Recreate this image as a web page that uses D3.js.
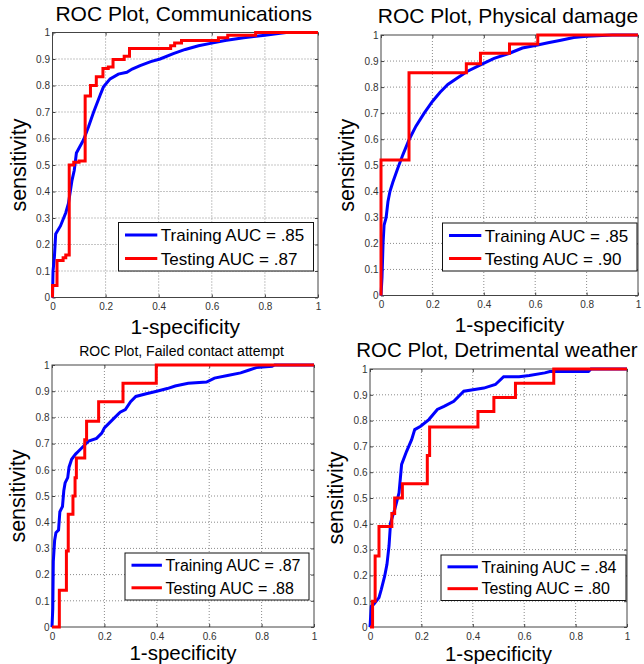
<!DOCTYPE html>
<html><head><meta charset="utf-8">
<script src="https://cdn.jsdelivr.net/npm/d3@7"></script>
<style>
body{margin:0;background:#fff;}
svg{display:block;font-family:"Liberation Sans",Arial,Helvetica,sans-serif;}
</style>
</head><body>
<svg id="chart" width="644" height="664"></svg>
<script>
// ---------- data ----------
const titles = ["ROC Plot, Communications", "ROC Plot, Physical damage", "ROC Plot, Failed contact attempt", "ROC Plot, Detrimental weather"];
const seriesNames = ["Training AUC = ", "Testing AUC = "];
const trainAUC = [".85", ".85", ".87", ".84"];
const testAUC = [".87", ".90", ".88", ".80"];
const xLabel = "1-specificity";
const yLabel = "sensitivity";
const xTicks = [0, 0.2, 0.4, 0.6, 0.8, 1];
const xTickLabels = ["0", "0.2", "0.4", "0.6", "0.8", "1"];
const yTicks = [0, 0.1, 0.2, 0.3, 0.4, 0.5, 0.6, 0.7, 0.8, 0.9, 1];
const yTickLabels = ["0", "0.1", "0.2", "0.3", "0.4", "0.5", "0.6", "0.7", "0.8", "0.9", "1"];

// [1-specificity, sensitivity]
const commTrain = [[0,0],[0.002,0.1],[0.007,0.15],[0.012,0.24],[0.03,0.27],[0.05,0.32],[0.06,0.355],[0.073,0.44],[0.082,0.48],[0.09,0.545],[0.117,0.595],[0.136,0.645],[0.155,0.7],[0.18,0.765],[0.192,0.795],[0.217,0.825],[0.248,0.843],[0.28,0.85],[0.3,0.862],[0.33,0.875],[0.37,0.89],[0.405,0.9],[0.455,0.92],[0.5,0.936],[0.55,0.95],[0.6,0.96],[0.65,0.97],[0.72,0.98],[0.8,0.99],[0.88,1],[1,1]];
const commTest = [[0,0],[0,0.045],[0.017,0.14],[0.04,0.15],[0.05,0.16],[0.063,0.5],[0.08,0.51],[0.1,0.515],[0.123,0.76],[0.143,0.8],[0.165,0.833],[0.19,0.864],[0.21,0.87],[0.228,0.898],[0.27,0.91],[0.29,0.94],[0.445,0.95],[0.46,0.96],[0.486,0.97],[0.625,0.98],[0.66,0.99],[0.765,1],[1,1]];

const physTrain = [[0,0],[0.004,0.07],[0.008,0.2],[0.012,0.27],[0.02,0.3],[0.027,0.36],[0.035,0.4],[0.046,0.435],[0.066,0.49],[0.085,0.54],[0.11,0.6],[0.136,0.65],[0.168,0.7],[0.2,0.745],[0.23,0.78],[0.26,0.81],[0.297,0.835],[0.335,0.86],[0.387,0.885],[0.44,0.91],[0.5,0.93],[0.55,0.95],[0.6,0.96],[0.65,0.97],[0.7,0.98],[0.75,0.99],[0.8,0.995],[0.9,1],[1,1]];
const physTest = [[0,0],[0,0.52],[0.109,0.855],[0.332,0.89],[0.387,0.93],[0.5,0.965],[0.61,1],[1,1]];

const failTrain = [[0,0],[0.003,0.07],[0.005,0.25],[0.01,0.33],[0.015,0.36],[0.025,0.37],[0.03,0.44],[0.04,0.46],[0.045,0.52],[0.05,0.55],[0.06,0.57],[0.065,0.61],[0.075,0.64],[0.09,0.66],[0.1,0.67],[0.12,0.69],[0.14,0.71],[0.17,0.72],[0.19,0.74],[0.2,0.76],[0.22,0.78],[0.24,0.8],[0.26,0.82],[0.28,0.83],[0.3,0.86],[0.32,0.88],[0.36,0.89],[0.4,0.9],[0.44,0.91],[0.47,0.92],[0.52,0.93],[0.59,0.935],[0.62,0.95],[0.67,0.96],[0.72,0.97],[0.75,0.98],[0.78,0.99],[0.84,0.995],[0.85,1],[1,1]];
const failTest = [[0,0],[0.028,0.14],[0.055,0.29],[0.062,0.43],[0.08,0.5],[0.088,0.57],[0.093,0.645],[0.125,0.715],[0.132,0.785],[0.178,0.86],[0.271,0.93],[0.398,1],[1,1]];

const weatherTrain = [[0,0],[0.005,0.08],[0.015,0.088],[0.035,0.114],[0.044,0.146],[0.057,0.197],[0.066,0.243],[0.074,0.314],[0.08,0.404],[0.096,0.455],[0.113,0.52],[0.123,0.63],[0.142,0.68],[0.162,0.726],[0.174,0.765],[0.197,0.778],[0.229,0.804],[0.262,0.843],[0.288,0.855],[0.326,0.875],[0.365,0.914],[0.443,0.926],[0.488,0.94],[0.52,0.97],[0.58,0.97],[0.62,0.975],[0.68,0.985],[0.7,0.99],[0.85,0.99],[0.86,1],[1,1]];
const weatherTest = [[0,0],[0.01,0.1],[0.02,0.275],[0.035,0.39],[0.085,0.44],[0.096,0.5],[0.126,0.555],[0.223,0.665],[0.232,0.775],[0.42,0.835],[0.482,0.89],[0.566,0.945],[0.715,1],[1,1]];

const trainSeries = [commTrain, physTrain, failTrain, weatherTrain];
const testSeries = [commTest, physTest, failTest, weatherTest];

// ---------- layout ----------
const layouts = [
  {l:52.5, r:318, t:32.5, b:297.5, tfs:21,   ty:21,  lx:118.5, ly:222.5, lw:195,   lh:48.5, lfs:17, xlo:36, xfs:21},
  {l:381,  r:638, t:35,   b:295.5, tfs:21,   ty:23,  lx:442.5, ly:223,   lw:194.5, lh:48,   lfs:17, xlo:36, xfs:21},
  {l:52,   r:314, t:365,  b:627,   tfs:14,   ty:356, lx:125,   ly:553,   lw:184,   lh:47,   lfs:16, xlo:33, xfs:20.5},
  {l:370,  r:627, t:369,  b:627,   tfs:20.5, ty:357, lx:441,   ly:555,   lw:185,   lh:45.5, lfs:16, xlo:34, xfs:20.5}
];

const svg = d3.select("#chart");
svg.append("rect").attr("width",644).attr("height",664).attr("fill","#fff");

layouts.forEach((L, i) => {
  const g = svg.append("g");
  const x = d3.scaleLinear().domain([0,1]).range([L.l, L.r]);
  const y = d3.scaleLinear().domain([0,1]).range([L.b, L.t]);

  g.append("rect").attr("x",L.l).attr("y",L.t).attr("width",L.r-L.l).attr("height",L.b-L.t).attr("fill","#fff");

  // grid
  g.append("g").selectAll("line").data(xTicks.filter(d => d > 0 && d < 1)).join("line")
    .attr("x1", d => x(d)).attr("x2", d => x(d)).attr("y1", L.t).attr("y2", L.b)
    .attr("stroke","#8a8a8a").attr("stroke-width",1).attr("stroke-dasharray","1,2");
  g.append("g").selectAll("line").data(yTicks.filter(d => d > 0 && d < 1)).join("line")
    .attr("y1", d => y(d)).attr("y2", d => y(d)).attr("x1", L.l).attr("x2", L.r)
    .attr("stroke","#8a8a8a").attr("stroke-width",1).attr("stroke-dasharray","1,2");

  // axes
  const styleAxis = sel => {
    sel.select(".domain").remove();
    sel.selectAll(".tick line").attr("stroke","#444");
    sel.selectAll(".tick text").attr("fill","#333").style("font-size","10px").style("font-family","'Liberation Sans',Arial,sans-serif");
  };
  g.append("g").attr("transform",`translate(0,${L.b})`)
    .call(d3.axisBottom(x).tickValues(xTicks).tickFormat((d,k) => xTickLabels[k]).tickSizeInner(-3).tickSizeOuter(0).tickPadding(5.5))
    .call(styleAxis);
  g.append("g").attr("transform",`translate(0,${L.t})`)
    .call(d3.axisTop(x).tickValues(xTicks).tickFormat("").tickSizeInner(-3).tickSizeOuter(0))
    .call(styleAxis);
  g.append("g").attr("transform",`translate(${L.l},0)`)
    .call(d3.axisLeft(y).tickValues(yTicks).tickFormat((d,k) => yTickLabels[k]).tickSizeInner(-3).tickSizeOuter(0).tickPadding(2.5))
    .call(styleAxis);
  g.append("g").attr("transform",`translate(${L.r},0)`)
    .call(d3.axisRight(y).tickValues(yTicks).tickFormat("").tickSizeInner(-3).tickSizeOuter(0))
    .call(styleAxis);

  // frame
  g.append("rect").attr("x",L.l).attr("y",L.t).attr("width",L.r-L.l).attr("height",L.b-L.t)
    .attr("fill","none").attr("stroke","#444").attr("stroke-width",1);

  // curves
  const lineTrain = d3.line().x(d => x(d[0])).y(d => y(d[1])).curve(d3.curveLinear);
  const lineTest = d3.line().x(d => x(d[0])).y(d => y(d[1])).curve(d3.curveStepAfter);
  g.append("path").datum(trainSeries[i]).attr("d", lineTrain)
    .attr("fill","none").attr("stroke","#0000ff").attr("stroke-width",3).attr("stroke-linejoin","miter");
  g.append("path").datum(testSeries[i]).attr("d", lineTest)
    .attr("fill","none").attr("stroke","#ff0000").attr("stroke-width",3).attr("stroke-linejoin","miter");

  // legend
  const lg = g.append("g").attr("transform",`translate(${L.lx},${L.ly})`);
  lg.append("rect").attr("width",L.lw).attr("height",L.lh).attr("fill","#fff").attr("stroke","#111").attr("stroke-width",1);
  const rows = [L.lh*0.26, L.lh*0.74];
  const colors = ["#0000ff","#ff0000"];
  const labels = [seriesNames[0] + trainAUC[i], seriesNames[1] + testAUC[i]];
  const lineEnd = 6.5 + 1.9*L.lfs;
  rows.forEach((ry, k) => {
    lg.append("line").attr("x1",6.5).attr("x2",lineEnd).attr("y1",ry).attr("y2",ry)
      .attr("stroke",colors[k]).attr("stroke-width",3);
    lg.append("text").attr("x",lineEnd+3.5).attr("y",ry + 0.36*L.lfs)
      .style("font-size",L.lfs+"px").attr("fill","#000").text(labels[k]);
  });

  // title
  g.append("text").attr("x",(L.l+L.r)/2 - 1.5).attr("y",L.ty).attr("text-anchor","middle")
    .style("font-size",L.tfs+"px").attr("fill","#000").text(titles[i]);
  // x label
  g.append("text").attr("x",(L.l+L.r)/2).attr("y",L.b+L.xlo).attr("text-anchor","middle")
    .style("font-size",L.xfs+"px").attr("fill","#000").text(xLabel);
  // y label
  g.append("text").attr("transform",`translate(${L.l-27},${(L.t+L.b)/2}) rotate(-90)`).attr("text-anchor","middle")
    .style("font-size","21.5px").attr("fill","#000").text(yLabel);
});
</script>
</body></html>
